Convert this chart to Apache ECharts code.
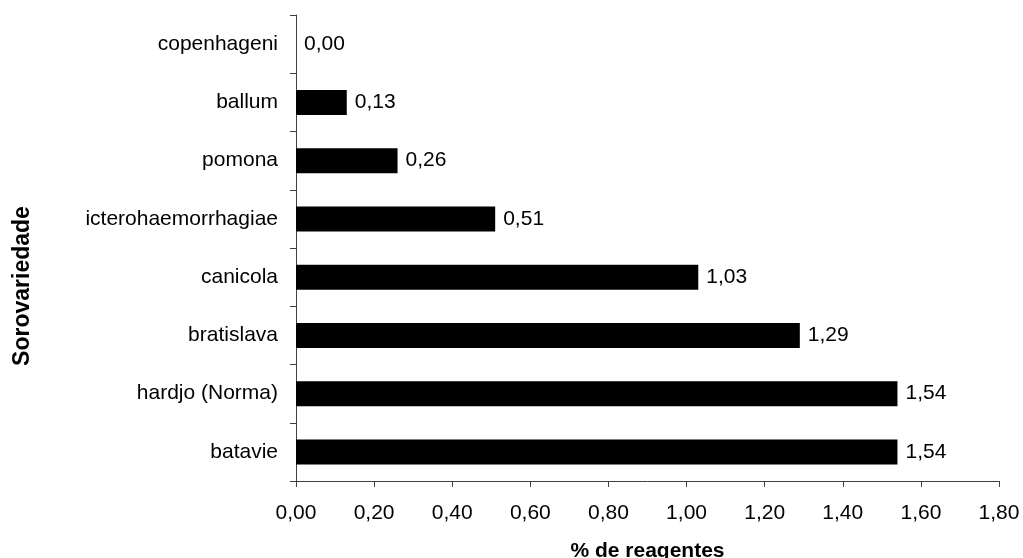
<!DOCTYPE html>
<html>
<head>
<meta charset="utf-8">
<script src="https://cdn.jsdelivr.net/npm/echarts@6/dist/echarts.min.js"></script>
<style>
  html, body { margin: 0; padding: 0; background: #fff; }
  #chart { width: 1023px; height: 558px; }
</style>
</head>
<body>
<div id="chart"></div>
<script>
// Serovar categories, bottom to top
const categories = ['batavie', 'hardjo (Norma)', 'bratislava', 'canicola', 'icterohaemorrhagiae', 'pomona', 'ballum', 'copenhageni'];
// Percentage of reactive samples per serovar
const values = [1.54, 1.54, 1.29, 1.03, 0.51, 0.26, 0.13, 0.00];
// Value axis ticks
const xTicks = [0, 0.2, 0.4, 0.6, 0.8, 1.0, 1.2, 1.4, 1.6, 1.8];

const fmt = v => v.toFixed(2).replace('.', ',');
const font = 'Liberation Sans, Arial, sans-serif';

const chart = echarts.init(document.getElementById('chart'));
chart.setOption({
  animation: false,
  backgroundColor: '#fff',
  grid: { left: 296, right: 24, top: 15, bottom: 77, containLabel: false, outerBoundsMode: 'none' },
  xAxis: {
    type: 'value',
    min: xTicks[0],
    max: xTicks[xTicks.length - 1],
    interval: 0.2,
    name: '% de reagentes',
    nameLocation: 'middle',
    nameGap: 60,
    nameTextStyle: { fontFamily: font, fontSize: 21, fontWeight: 'bold', color: '#000' },
    axisLine: { show: true, lineStyle: { color: '#404040', width: 1 } },
    axisTick: { show: true, inside: false, length: 6, lineStyle: { color: '#404040' } },
    axisLabel: { fontFamily: font, fontSize: 21, color: '#000', margin: 22, formatter: v => fmt(v) },
    splitLine: { show: false }
  },
  yAxis: {
    type: 'category',
    data: categories,
    name: 'Sorovariedade',
    nameLocation: 'middle',
    nameGap: 262,
    nameRotate: 90,
    // extra right padding pushes the rotated title a little below the axis centre
    nameTextStyle: { fontFamily: font, fontSize: 23, fontWeight: 'bold', color: '#000', padding: [0, 76, 0, 0] },
    axisLine: { show: true, lineStyle: { color: '#404040', width: 1 } },
    axisTick: { show: true, length: 6, lineStyle: { color: '#404040' } },
    axisLabel: { fontFamily: font, fontSize: 21, color: '#000', margin: 18 },
    splitLine: { show: false }
  },
  series: [{
    type: 'bar',
    data: values,
    barWidth: 25,
    itemStyle: { color: '#000' },
    label: {
      show: true,
      position: 'right',
      distance: 8,
      fontFamily: font,
      fontSize: 21,
      color: '#000',
      formatter: p => fmt(p.value)
    }
  }]
});
</script>
</body>
</html>
